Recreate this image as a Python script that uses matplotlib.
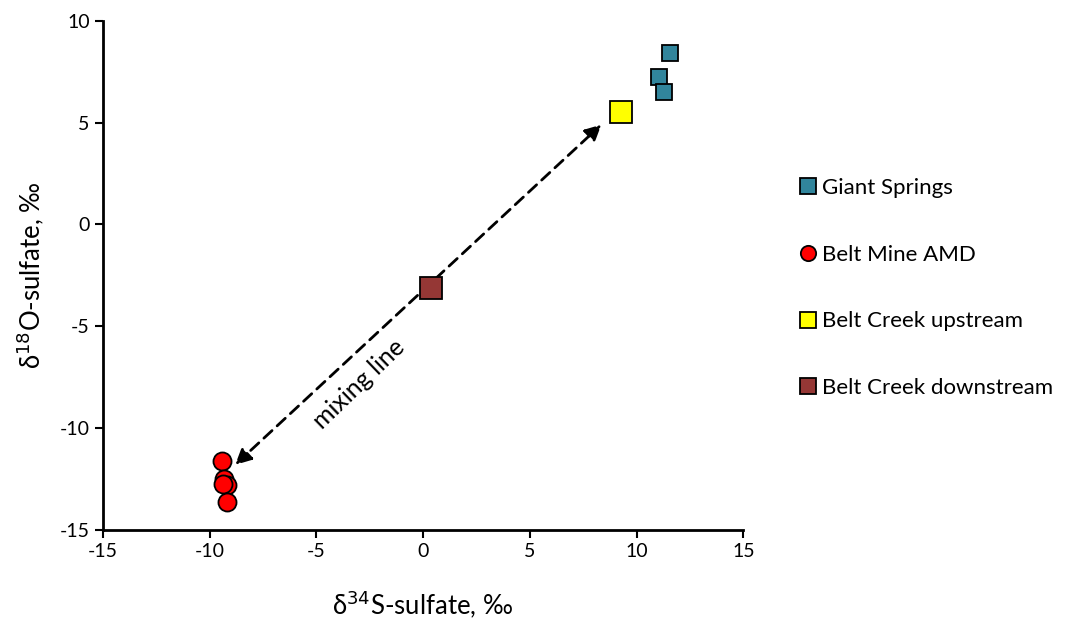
import numpy as np
from matplotlib import pyplot as plt

# data
giant_x = [11.55, 11.05, 11.3]
giant_y = [8.4, 7.25, 6.5]
amd_x = [-9.4, -9.3, -9.2, -9.35, -9.2]
amd_y = [-11.6, -12.5, -12.8, -12.75, -13.6]
up_x = [9.25]
up_y = [5.5]
down_x = [0.35]
down_y = [-3.1]
arrow_start = (-8.8, -11.8)
arrow_end = (8.35, 4.9)

plt.rcParams['font.family'] = ['Lato', 'DejaVu Sans']
plt.rcParams['axes.unicode_minus'] = False

fig = plt.figure(figsize=(10.82, 6.28), dpi=100)
ax = fig.add_axes([0.095, 0.156, 0.592, 0.811])

ax.annotate('', xy=arrow_end, xytext=arrow_start,
            arrowprops=dict(arrowstyle='<|-|>', linestyle=(0, (4, 2.5)), lw=2,
                            color='black', mutation_scale=24, shrinkA=0, shrinkB=0))
ax.text(-3.0, -7.85, 'mixing line', rotation=44, ha='center', va='center', fontsize=18)

ax.plot(giant_x, giant_y, 's', ms=11.5, mfc='#31859c', mec='black', mew=1.3,
        label='Giant Springs', zorder=3)
ax.plot(amd_x, amd_y, 'o', ms=13, mfc='#ff0000', mec='black', mew=1.3,
        label='Belt Mine AMD', zorder=3)
ax.plot(up_x, up_y, 's', ms=15.5, mfc='#ffff00', mec='black', mew=1.3,
        label='Belt Creek upstream', zorder=3)
ax.plot(down_x, down_y, 's', ms=15.5, mfc='#953735', mec='black', mew=1.3,
        label='Belt Creek downstream', zorder=3)

ax.set_xlim(-15, 15)
ax.set_ylim(-15, 10)
ax.set_xticks(np.arange(-15, 16, 5))
ax.set_yticks(np.arange(-15, 11, 5))
ax.tick_params(direction='out', length=6, width=1.5, labelsize=14)
ax.spines['top'].set_visible(False)
ax.spines['right'].set_visible(False)
ax.spines['left'].set_linewidth(2)
ax.spines['bottom'].set_linewidth(2)

ax.set_xlabel('δ$^{34}$S-sulfate, ‰', fontsize=18.5, labelpad=20)
ax.set_ylabel('δ$^{18}$O-sulfate, ‰', fontsize=18.5, labelpad=10)

leg = ax.legend(loc='center left', bbox_to_anchor=(1.07, 0.475), frameon=False,
                fontsize=16, labelspacing=2.1, handletextpad=0.1, handlelength=1,
                borderaxespad=0)
for h in leg.legend_handles:
    h.set_markersize(11)

fig.savefig('out.png', dpi=100)
